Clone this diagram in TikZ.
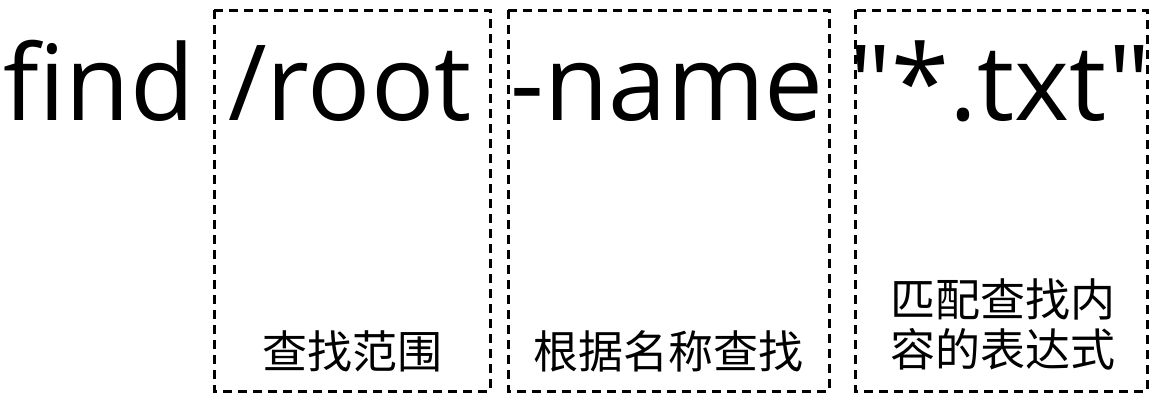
\documentclass[tikz,border=0pt]{standalone}
\usepackage{fontspec}
\newfontfamily\bigfont{Open Sans}
\newfontfamily\cjk{Noto Sans CJK SC}
\begin{document}
\begin{tikzpicture}[x=1pt,y=-1pt,
  part/.style={draw=black,line width=3pt,dash pattern=on 9pt off 6pt},
  bigword/.style={anchor=base,inner sep=0pt,font=\bigfont\fontsize{105}{120}\selectfont},
  note/.style={inner sep=0pt,align=center,font=\cjk\fontsize{45}{50}\selectfont}]
\useasboundingbox (0,0) rectangle (1161,405);
\draw[part] (214,10) rectangle (490,391);
\draw[part] (508,10) rectangle (829,391);
\draw[part] (855,10) rectangle (1147,391);
\node[bigword] (w0) at (99,120) {find};
\node[bigword] (w1) at (350,120) {/root};
\node[bigword] (w2) at (667,120) {-name};
\node[bigword] (w3) at (1000,120) {"*.txt"};
\node[note] (n1) at (352,351) {查找范围};
\node[note] (n2) at (668,351) {根据名称查找};
\node[note] (n3) at (1003,324) {匹配查找内\\容的表达式};
\end{tikzpicture}
\end{document}
